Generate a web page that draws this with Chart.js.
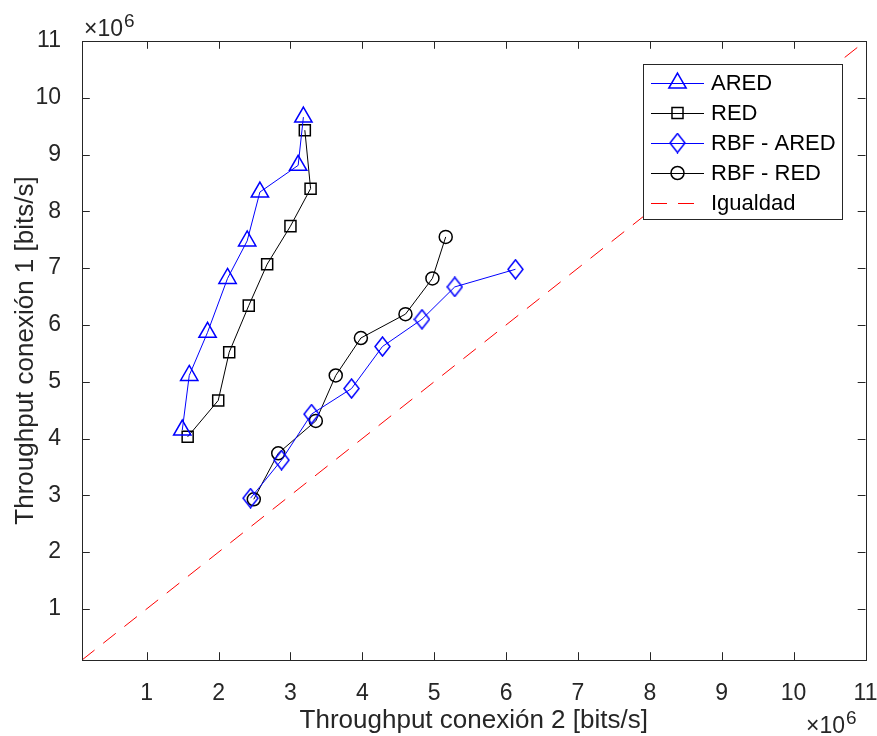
<!DOCTYPE html>
<html>
<head>
<meta charset="utf-8">
<script src="https://cdn.jsdelivr.net/npm/chart.js@4/dist/chart.umd.min.js"></script>
<style>
  html, body { margin: 0; padding: 0; background: #fff; }
  #wrap { width: 877px; height: 736px; }
</style>
</head>
<body>
<div id="wrap"><canvas id="chart" width="877" height="736"></canvas></div>
<script>
// values in units of 10^6 bits/s
const xTicks = [1, 2, 3, 4, 5, 6, 7, 8, 9, 10, 11]
const yTicks = [1, 2, 3, 4, 5, 6, 7, 8, 9, 10, 11]

const aredX = [1.495, 1.592, 1.847, 2.125, 2.398, 2.575, 3.107, 3.180]
const aredY = [4.15, 5.11, 5.87, 6.82, 7.48, 8.34, 8.81, 9.66]

const redX = [1.57, 1.995, 2.148, 2.42, 2.676, 3.00, 3.28, 3.20]
const redY = [4.03, 4.67, 5.52, 6.34, 7.07, 7.74, 8.40, 9.43]

const rbfAredX = [2.445, 2.876, 3.293, 3.85, 4.28, 4.83, 5.286, 6.13]
const rbfAredY = [2.95, 3.62, 4.43, 4.88, 5.62, 6.10, 6.67, 6.98]

const rbfRedX = [2.49, 2.83, 3.353, 3.63, 3.98, 4.60, 4.975, 5.16]
const rbfRedY = [2.93, 3.74, 4.31, 5.11, 5.77, 6.19, 6.82, 7.55]

const igualdadX = [0.1, 11]
const igualdadY = [0.1, 11]

const axisColor = "#262626"
const font = "'Liberation Sans', Arial, Helvetica, sans-serif"

function pts(xs, ys) {
  return xs.map((x, i) => ({ x: x, y: ys[i] }))
}

// MATLAB style diamond, a bit taller than wide
function makeDiamond(w, h, color) {
  var c = document.createElement("canvas")
  c.width = w; c.height = h
  var g = c.getContext("2d")
  g.strokeStyle = color
  g.lineWidth = 1.5
  g.beginPath()
  g.moveTo(w / 2, 1)
  g.lineTo(w - 1, h / 2)
  g.lineTo(w / 2, h - 1)
  g.lineTo(1, h / 2)
  g.closePath()
  g.stroke()
  return c
}
const diamond = makeDiamond(17, 21, "#0000ff")

const datasets = [
  {
    label: "ARED", data: pts(aredX, aredY),
    borderColor: "#0000ff", borderWidth: 1,
    pointStyle: "triangle", pointRadius: 10, pointBorderWidth: 1.5,
    pointBorderColor: "#0000ff", pointBackgroundColor: "rgba(0,0,0,0)"
  },
  {
    label: "RED", data: pts(redX, redY),
    borderColor: "#000000", borderWidth: 1,
    pointStyle: "rect", pointRadius: 7.8, pointBorderWidth: 1.5,
    pointBorderColor: "#000000", pointBackgroundColor: "rgba(0,0,0,0)"
  },
  {
    label: "RBF - ARED", data: pts(rbfAredX, rbfAredY),
    borderColor: "#0000ff", borderWidth: 1,
    pointStyle: diamond, pointRadius: 9,
    pointBorderColor: "#0000ff", pointBackgroundColor: "rgba(0,0,0,0)"
  },
  {
    label: "RBF - RED", data: pts(rbfRedX, rbfRedY),
    borderColor: "#000000", borderWidth: 1,
    pointStyle: "circle", pointRadius: 6.5, pointBorderWidth: 1.5,
    pointBorderColor: "#000000", pointBackgroundColor: "rgba(0,0,0,0)"
  },
  {
    label: "Igualdad", data: pts(igualdadX, igualdadY),
    borderColor: "#ff0000", borderWidth: 1, borderDash: [16, 11],
    pointRadius: 0
  }
]

function drawMarker(ctx, style, x, y) {
  ctx.save()
  ctx.lineWidth = 1.5
  ctx.beginPath()
  if (style === "triangle") {
    var r = 10
    ctx.moveTo(x, y - r)
    ctx.lineTo(x + r * Math.sin(2 * Math.PI / 3), y - r * Math.cos(2 * Math.PI / 3))
    ctx.lineTo(x + r * Math.sin(4 * Math.PI / 3), y - r * Math.cos(4 * Math.PI / 3))
    ctx.closePath()
    ctx.stroke()
  } else if (style === "rect") {
    var s = 7.8 * Math.SQRT1_2
    ctx.rect(x - s, y - s, 2 * s, 2 * s)
    ctx.stroke()
  } else if (style === "circle") {
    ctx.arc(x, y, 6.5, 0, Math.PI * 2)
    ctx.stroke()
  } else if (style instanceof HTMLCanvasElement) {
    ctx.drawImage(style, x - style.width / 2, y - style.height / 2)
  }
  ctx.restore()
}

const matlabFrame = {
  id: "matlabFrame",
  afterDraw(chart) {
    var ctx = chart.ctx
    var a = chart.chartArea
    var xs = chart.scales.x, ys = chart.scales.y
    var tl = 7.8
    ctx.save()
    ctx.strokeStyle = axisColor
    ctx.lineWidth = 1
    ctx.strokeRect(Math.round(a.left) + 0.5, Math.round(a.top) + 0.5,
      Math.round(a.right - a.left), Math.round(a.bottom - a.top))
    ctx.beginPath()
    xTicks.forEach(v => {
      var px = Math.round(xs.getPixelForValue(v)) + 0.5
      ctx.moveTo(px, a.bottom); ctx.lineTo(px, a.bottom - tl)
      ctx.moveTo(px, a.top); ctx.lineTo(px, a.top + tl)
    })
    yTicks.forEach(v => {
      var py = Math.round(ys.getPixelForValue(v)) + 0.5
      ctx.moveTo(a.left, py); ctx.lineTo(a.left + tl, py)
      ctx.moveTo(a.right, py); ctx.lineTo(a.right - tl, py)
    })
    ctx.stroke()

    // exponent labels
    ctx.fillStyle = axisColor
    ctx.textAlign = "left"
    ctx.textBaseline = "alphabetic"
    ctx.font = "23px " + font
    var w = ctx.measureText("\u00d710").width
    ctx.fillText("\u00d710", 84, 36)
    ctx.fillText("\u00d710", 806, 733)
    ctx.font = "19px " + font
    ctx.fillText("6", 84 + w + 1, 27)
    ctx.fillText("6", 806 + w + 1, 724)

    // legend
    var bx = 643, by = 64, bw = 199, bh = 155
    ctx.fillStyle = "#ffffff"
    ctx.fillRect(bx, by, bw, bh)
    ctx.strokeStyle = axisColor
    ctx.strokeRect(bx + 0.5, by + 0.5, bw, bh)
    chart.data.datasets.forEach((ds, i) => {
      var yy = 83 + i * 30
      ctx.save()
      ctx.strokeStyle = ds.borderColor
      ctx.lineWidth = 1
      ctx.setLineDash(ds.borderDash || [])
      ctx.beginPath()
      ctx.moveTo(651, yy + 0.5); ctx.lineTo(704, yy + 0.5)
      ctx.stroke()
      ctx.restore()
      if (ds.pointRadius > 0) {
        ctx.strokeStyle = ds.pointBorderColor
        drawMarker(ctx, ds.pointStyle, 677.5, yy)
      }
      ctx.fillStyle = "#000000"
      ctx.font = "22px " + font
      ctx.textBaseline = "middle"
      ctx.fillText(ds.label, 711, yy + 1)
    })
    ctx.restore()
  }
}

const ctx = document.getElementById("chart").getContext("2d")
new Chart(ctx, {
  type: "scatter",
  data: { datasets: datasets },
  options: {
    responsive: false,
    devicePixelRatio: 1,
    animation: false,
    events: [],
    showLine: true,
    layout: { padding: { top: 41, right: 11, left: 0, bottom: 0 } },
    plugins: { legend: { display: false }, tooltip: { enabled: false } },
    scales: {
      x: {
        type: "linear", min: 0.1, max: 11,
        afterBuildTicks: s => { s.ticks = xTicks.map(v => ({ value: v })) },
        afterFit: s => { s.height = 76; s.paddingLeft = 0; s.paddingRight = 0 },
        grid: { display: false }, border: { display: false },
        ticks: { color: axisColor, font: { family: font, size: 23 }, padding: 12, maxRotation: 0, autoSkip: false },
        title: { display: true, text: "Throughput conexión 2 [bits/s]", color: axisColor,
          font: { family: font, size: 26 }, padding: { top: 0, bottom: 0 } }
      },
      y: {
        type: "linear", min: 0.1, max: 11,
        afterBuildTicks: s => { s.ticks = yTicks.map(v => ({ value: v })) },
        afterFit: s => { s.width = 82; s.paddingTop = 0; s.paddingBottom = 0 },
        grid: { display: false }, border: { display: false },
        ticks: { color: axisColor, font: { family: font, size: 23 }, padding: 13, autoSkip: false },
        title: { display: true, text: "Throughput conexión 1 [bits/s]", color: axisColor,
          font: { family: font, size: 26 }, padding: { top: 10, bottom: 0 } }
      }
    }
  },
  plugins: [matlabFrame]
})
</script>
</body>
</html>
